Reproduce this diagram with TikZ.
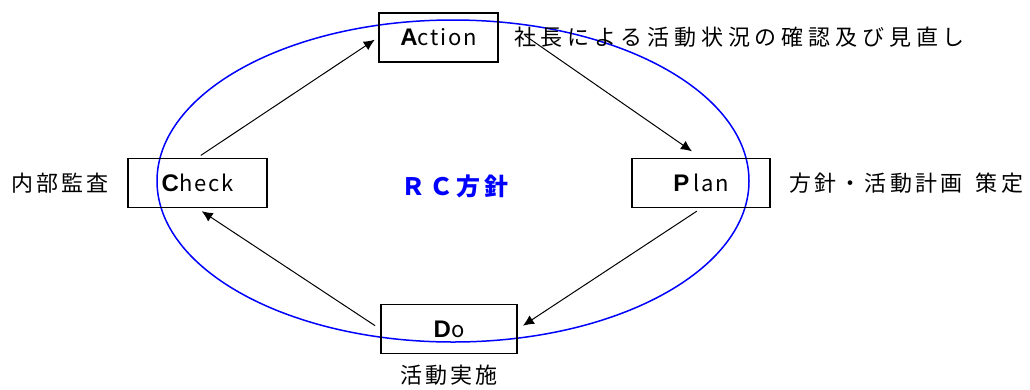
\documentclass[tikz,border=0pt]{standalone}
\usepackage{xcolor}
\usepackage{fontspec}
\setmainfont{Noto Sans CJK JP}
\newfontfamily\jpfont[LetterSpace=15]{Noto Sans CJK JP}
\newfontfamily\widefont[LetterSpace=22]{Noto Sans CJK JP}
\newfontfamily\boxfont[LetterSpace=8]{Noto Sans CJK JP}
\newfontfamily\capfont{Liberation Sans}
\usepackage{tikz}
\usetikzlibrary{positioning, arrows.meta}
\tikzset{
  stage/.style={draw, line width=1.8pt, minimum height=49pt, inner sep=0pt, font=\boxfont\fontsize{22}{26}\selectfont},
  flow/.style={-{Latex[length=11pt,width=10pt]}, line width=1pt},
  note/.style={inner sep=0pt, font=\jpfont\fontsize{22}{26}\selectfont}
}
\newcommand{\initial}[1]{{\capfont\bfseries\fontsize{24}{28}\selectfont #1}}

\begin{document}
\begin{tikzpicture}[x=1pt, y=-1pt]
\useasboundingbox (0,0) rectangle (1030,389);

\draw[blue, line width=1.5pt] (453,181) ellipse [x radius=296pt, y radius=161pt];

\node[stage, minimum width=119pt] (act) at (438.5,37.5) {\initial{A}ction};
\node[stage, minimum width=139pt] (chk) at (197.5,183) {\initial{C}heck};
\node[stage, minimum width=138pt] (pln) at (701,183) {\initial{P}\,lan};
\node[stage, minimum width=136pt] (do) at (449,329) {\initial{D}o};

\node[note, font=\widefont\fontsize{22}{26}\selectfont, right=15pt of act] (actnote) {社長による活動状況の確認及び見直し};
\node[note, left=18pt of chk] (chknote) {内部監査};
\node[note, right=18pt of pln] (plnnote) {方針・活動計画\hspace{13pt}策定};
\node[note, below=10pt of do] (donote) {活動実施};

\node[inner sep=0pt, text=blue, font=\jpfont\bfseries\fontsize{24}{28}\selectfont] (policy) at (455,186) {ＲＣ方針};

\coordinate (actout) at ([xshift=26pt, yshift=2pt]act.east);

\draw[flow, shorten <=4pt, shorten >=4pt] (chk.north) -- (act.west);
\draw[flow, shorten >=11pt] (actout) -- (pln.north);
\draw[flow, shorten <=5pt, shorten >=6pt] (pln.south) -- (do.east);
\draw[flow, shorten <=6pt, shorten >=5pt] (do.west) -- (chk.south);
\end{tikzpicture}
\end{document}
